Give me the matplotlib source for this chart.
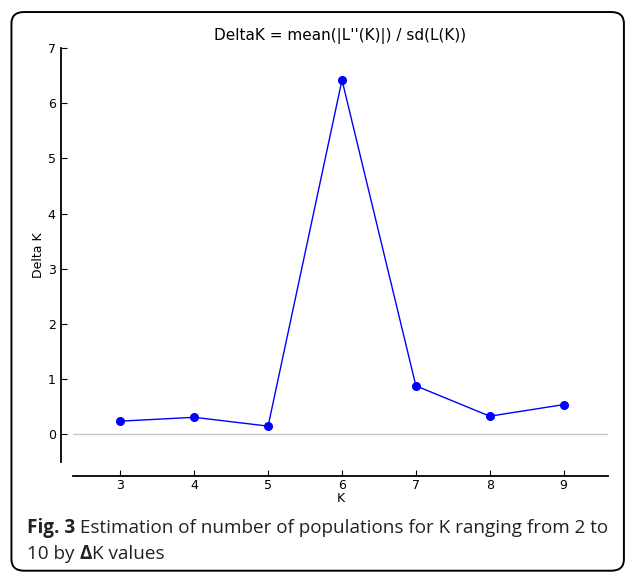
import matplotlib.pyplot as plt
from matplotlib.patches import FancyBboxPatch

# Evanno delta K values
k_values = [3, 4, 5, 6, 7, 8, 9]
delta_k = [0.24, 0.31, 0.15, 6.42, 0.88, 0.33, 0.54]
y_ticks = [0, 1, 2, 3, 4, 5, 6, 7]

fig = plt.figure(figsize=(6.36, 5.73), dpi=100)
ax = fig.add_axes([0.1148, 0.1937, 0.8412, 0.7225])

ax.axhline(0, color="#c8c8c8", lw=1, zorder=1)
ax.plot(k_values, delta_k, color="#0000ff", lw=1, marker="o", ms=5.5, zorder=3)

ax.set_xlim(2.36, 9.6)
ax.set_ylim(-0.5, 7)
ax.set_xticks(k_values)
ax.set_yticks(y_ticks)

for s in ["top", "right"]:
    ax.spines[s].set_visible(False)
ax.spines["left"].set_position(("outward", 9))
ax.spines["bottom"].set_position(("outward", 10))
ax.spines["left"].set_linewidth(1.3)
ax.spines["bottom"].set_linewidth(1.3)
ax.tick_params(direction="in", length=4, labelsize=9, width=0.8)
ax.tick_params(axis="x", pad=2)

ax.set_title("DeltaK = mean(|L''(K)|) / sd(L(K))", fontsize=11, pad=6)
ax.set_xlabel("K", fontsize=9, labelpad=0)
ax.set_ylabel("Delta K", fontsize=9, labelpad=2)

# caption, pieces placed one after another
fig.canvas.draw()
r = fig.canvas.get_renderer()
cap = dict(fontsize=13.6, family="Open Sans", va="baseline", color="#222222")

def chain(x0, y, pieces):
    x = x0
    for txt, w in pieces:
        t = fig.text(x, y, txt, fontweight=w, **cap)
        bb = t.get_window_extent(renderer=r)
        x = (bb.x1) / fig.bbox.width

chain(27 / 636, 1 - 533 / 573, [("Fig. 3", "bold"),
      (" Estimation of number of populations for K ranging from 2 to", "normal")])
chain(27 / 636, 1 - 559 / 573, [("10 by ", "normal"), ("\u0394", "bold"), ("K values", "normal")])

frame = FancyBboxPatch((0.018, 0.004), 0.963, 0.975, boxstyle="round,pad=0,rounding_size=0.02",
                       transform=fig.transFigure, fill=False, ec="black", lw=1.4)
fig.patches.append(frame)

fig.savefig("out.png", dpi=100)
